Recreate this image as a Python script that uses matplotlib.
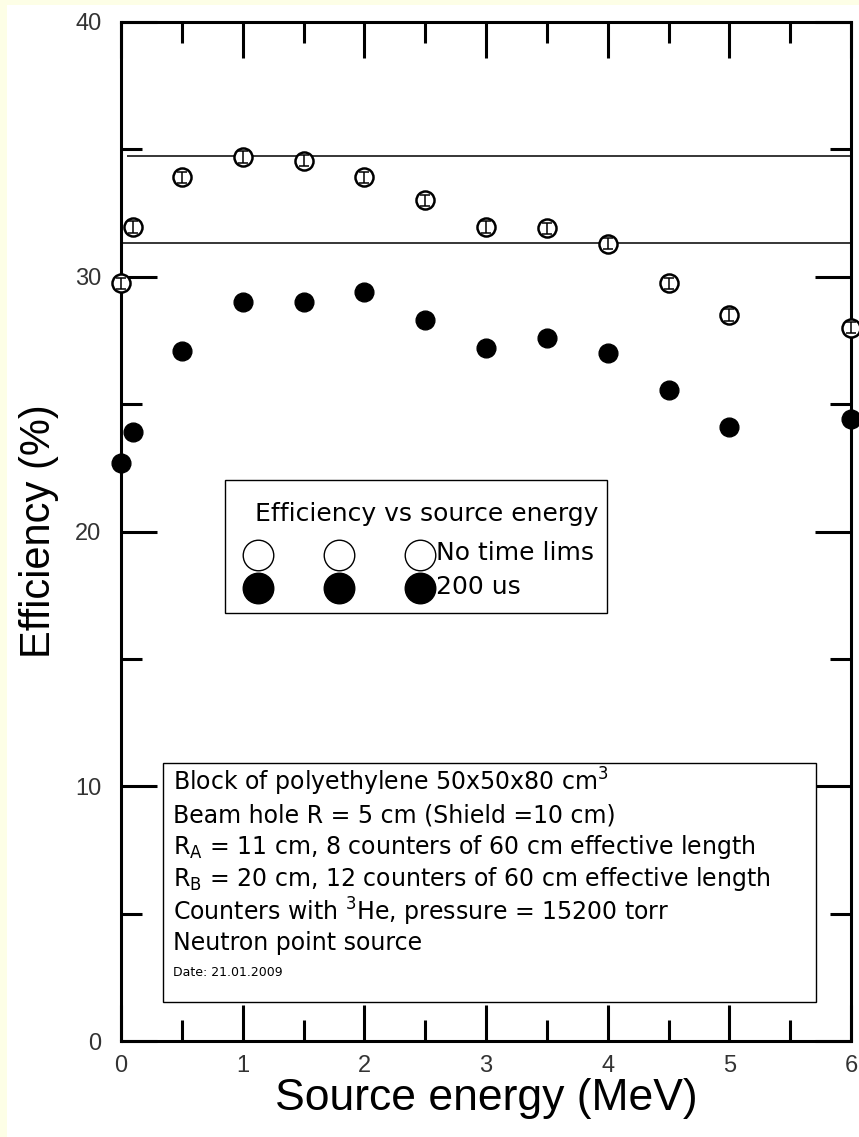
# Efficiency vs source energy for a 3He counter setup
import matplotlib.pyplot as plt
from matplotlib.patches import Rectangle
from matplotlib.ticker import MultipleLocator

plt.rcParams['font.family'] = ['Liberation Sans', 'DejaVu Sans']
box_font = ['DejaVu Sans']

energy = [0.0, 0.1, 0.5, 1.0, 1.5, 2.0, 2.5, 3.0, 3.5, 4.0, 4.5, 5.0, 6.0]
eff_no_lim = [29.75, 31.95, 33.9, 34.7, 34.55, 33.9, 33.0, 31.95, 31.9, 31.3, 29.75, 28.5, 28.0]
err_no_lim = [0.22, 0.22, 0.22, 0.22, 0.22, 0.22, 0.22, 0.22, 0.22, 0.22, 0.22, 0.22, 0.22]
eff_200us = [22.7, 23.9, 27.1, 29.0, 29.0, 29.4, 28.3, 27.2, 27.6, 27.0, 25.55, 24.1, 24.4]
ref_lines = [34.74, 31.33]

info_lines = [
    'Block of polyethylene 50x50x80 cm$^3$',
    'Beam hole R = 5 cm (Shield =10 cm)',
    'R$_\\mathrm{A}$ = 11 cm, 8 counters of 60 cm effective length',
    'R$_\\mathrm{B}$ = 20 cm, 12 counters of 60 cm effective length',
    'Counters with $^3$He, pressure = 15200 torr',
    'Neutron point source',
]
date_text = 'Date: 21.01.2009'

W, H = 859, 1137
fig = plt.figure(figsize=(W / 100, H / 100), dpi=100, facecolor='#fdfee6')
# white page inside the yellow frame
fig.patches.append(Rectangle((7 / W, 0), 1, 1 - 5 / H, transform=fig.transFigure,
                             facecolor='white', edgecolor='none', zorder=-10))

x0, x1, ytop, ybot = 121, 851, 22, 1041
ax = fig.add_axes([x0 / W, (H - ybot) / H, (x1 - x0) / W, (ybot - ytop) / H])
ax.set_zorder(5)
ax.set_facecolor('white')


def axf(px, py):
    # pixel position -> axes fraction
    return (px - x0) / (x1 - x0), (ybot - py) / (ybot - ytop)


ax.hlines(ref_lines, [0.05, 0.015], [6.02, 6.02], color='black', lw=1.1, clip_on=False, zorder=2)

ax.plot(energy, eff_no_lim, 'o', ms=13, mfc='white', mec='black', mew=1.8,
        clip_on=False, zorder=4)
ax.errorbar(energy, eff_no_lim, yerr=err_no_lim, fmt='none', ecolor='black',
            elinewidth=1.1, capsize=3.5, capthick=1.1, clip_on=False, zorder=5)
ax.plot(energy, eff_200us, 'o', ms=13.5, color='black', clip_on=False, zorder=4)

ax.set_xlim(0, 6)
ax.set_ylim(0, 40)
ax.xaxis.set_major_locator(MultipleLocator(1))
ax.xaxis.set_minor_locator(MultipleLocator(0.5))
ax.yaxis.set_major_locator(MultipleLocator(10))
ax.yaxis.set_minor_locator(MultipleLocator(5))
ax.tick_params(which='both', direction='in', top=True, right=True, width=2.2,
               labelsize=17, labelcolor='#333333')
ax.tick_params(which='major', length=26)
ax.tick_params(which='minor', length=15)
ax.tick_params(axis='x', which='major', pad=10)
ax.tick_params(axis='y', which='major', pad=14)
for s in ax.spines.values():
    s.set_linewidth(2.2)

ax.set_xlabel('Source energy (MeV)', fontsize=32, labelpad=1)
ax.set_ylabel('Efficiency (%)', fontsize=30, labelpad=12)

# legend box
lx0, ly0 = axf(225, 613)
lx1, ly1 = axf(607, 480)
ax.add_patch(Rectangle((lx0, ly0), lx1 - lx0, ly1 - ly0, transform=ax.transAxes,
                       facecolor='white', edgecolor='black', lw=1.0, zorder=5))
ax.text(*axf(427, 514), 'Efficiency vs source energy', transform=ax.transAxes,
        ha='center', va='center', fontsize=18, family=box_font, zorder=6)
for mx in [258, 339, 420]:
    ax.plot(*axf(mx, 555), 'o', ms=22, mfc='white', mec='black', mew=1.0,
            transform=ax.transAxes, clip_on=False, zorder=6)
    ax.plot(*axf(mx, 588), 'o', ms=22, color='black',
            transform=ax.transAxes, clip_on=False, zorder=6)
ax.text(*axf(436, 553), 'No time lims', transform=ax.transAxes,
        ha='left', va='center', fontsize=18, family=box_font, zorder=6)
ax.text(*axf(436, 587), '200 us', transform=ax.transAxes,
        ha='left', va='center', fontsize=18, family=box_font, zorder=6)

# info box
bx0, by0 = axf(163, 1002)
bx1, by1 = axf(816, 763)
ax.add_patch(Rectangle((bx0, by0), bx1 - bx0, by1 - by0, transform=ax.transAxes,
                       facecolor='white', edgecolor='black', lw=1.0, zorder=5))
for line, py in zip(info_lines, [782, 815, 847, 879, 912, 943]):
    ax.text(*axf(173, py), line, transform=ax.transAxes, ha='left', va='center',
            fontsize=17, family=box_font, zorder=6)
ax.text(*axf(173, 972), date_text, transform=ax.transAxes, ha='left', va='center',
        fontsize=9, family=box_font, zorder=6)

fig.savefig('out.png', dpi=100, facecolor=fig.get_facecolor())
